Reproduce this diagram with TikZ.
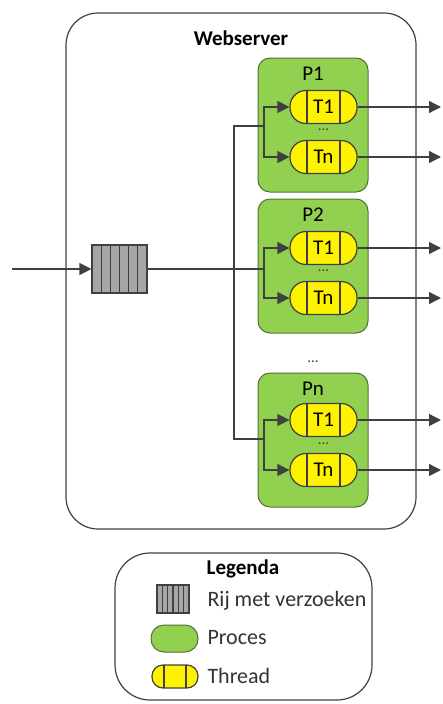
\documentclass[tikz,border=0pt]{standalone}
\usepackage{fontspec}
\setmainfont{Carlito}
\usepackage{tikz}
\usetikzlibrary{calc, positioning, arrows.meta}
\definecolor{procgreen}{RGB}{146,208,80}
\definecolor{procborder}{RGB}{84,112,58}
\definecolor{linegray}{RGB}{64,64,64}
\definecolor{queuegray}{RGB}{166,166,166}
\tikzset{
	box/.style={draw=linegray, line width=1.2pt, fill=white},
	proc/.style={draw=procborder, fill=procgreen, line width=1pt, rounded corners=12pt, minimum width=110pt, minimum height=134pt},
	thread/.style={draw=linegray, fill=yellow, line width=1.2pt, inner sep=0pt, rounded corners=16pt, minimum width=67pt, minimum height=33pt,
		path picture={
			\draw[linegray, line width=2pt]
				($(path picture bounding box.north west)!0.26!(path picture bounding box.north east)$) --
				($(path picture bounding box.south west)!0.26!(path picture bounding box.south east)$)
				($(path picture bounding box.north west)!0.74!(path picture bounding box.north east)$) --
				($(path picture bounding box.south west)!0.74!(path picture bounding box.south east)$);
		}},
	queue/.style={draw=linegray, fill=queuegray, line width=1.2pt, inner sep=0pt, minimum width=55pt, minimum height=48pt,
		path picture={
			\foreach \i in {1,...,5}
				\draw[linegray, line width=1.2pt]
					($(path picture bounding box.north west)!\i/6!(path picture bounding box.north east)$) --
					($(path picture bounding box.south west)!\i/6!(path picture bounding box.south east)$);
		}},
	wire/.style={draw=linegray, line width=1.3pt},
	arr/.style={wire, -{Triangle[length=12pt, width=12pt]}},
	dots/.style={font=\fontsize{15}{15}\selectfont, inner sep=0pt, text=linegray},
	title/.style={font=\bfseries\fontsize{21}{25}\selectfont},
	legtxt/.style={anchor=west, font=\fontsize{22}{26}\selectfont, text=black!80}
}

\begin{document}
\begin{tikzpicture}[x=1pt, y=-1pt, font=\fontsize{21}{25}\selectfont]
	\useasboundingbox (0,0) rectangle (443,704);

	% webserver
	\node[box, rounded corners=32pt, minimum width=350pt, minimum height=516pt] (web) at (241,271) {};
	\node[title] (webtitle) at (241,38) {Webserver};

	\node[queue] (q) at (119.5,269) {};
	\coordinate (in) at (12,269);
	\draw[arr] (in) -- (q);

	\node[proc] (p1) at (313,125) {};
	\node (p1lbl) at (313,74) {P1};
	\node[thread] (p1t1) at (323.5,107) {T1};
	\node[thread] (p1tn) at (323.5,157) {Tn};
	\node[dots] (p1dots) at (323.5,130) {...};

	\node[proc] (p2) at (313,266) {};
	\node (p2lbl) at (313,215) {P2};
	\node[thread] (p2t1) at (323.5,248) {T1};
	\node[thread] (p2tn) at (323.5,298) {Tn};
	\node[dots] (p2dots) at (323.5,271) {...};

	\node[dots] (pdots) at (313,362) {...};

	\node[proc] (pn) at (313,440) {};
	\node (pnlbl) at (313,389) {Pn};
	\node[thread] (pnt1) at (323.5,420) {T1};
	\node[thread] (pntn) at (323.5,470) {Tn};
	\node[dots] (pndots) at (323.5,444) {...};

	% verdeling
	\coordinate (f1) at (234,126);
	\coordinate (fn) at (234,439);
	\coordinate (j1) at (264,126);
	\coordinate (j2) at (264,269);
	\coordinate (jn) at (264,439);
	\draw[wire] (q) -- (j2);
	\draw[wire] (j1) -- (f1) -- (fn) -- (jn);
	\draw[arr] (j1) |- (p1t1);
	\draw[arr] (j1) |- (p1tn);
	\draw[arr] (j2) |- (p2t1);
	\draw[arr] (j2) |- (p2tn);
	\draw[arr] (jn) |- (pnt1);
	\draw[arr] (jn) |- (pntn);

	% uitgangen
	\coordinate (out) at (441,0);
	\draw[arr] (p1t1) -- (p1t1 -| out);
	\draw[arr] (p1tn) -- (p1tn -| out);
	\draw[arr] (p2t1) -- (p2t1 -| out);
	\draw[arr] (p2tn) -- (p2tn -| out);
	\draw[arr] (pnt1) -- (pnt1 -| out);
	\draw[arr] (pntn) -- (pntn -| out);

	% legenda
	\node[box, rounded corners=35pt, minimum width=257pt, minimum height=147pt] (leg) at (243.5,626.5) {};
	\node[title] (legtitle) at (243,569) {Legenda};
	\node[queue, minimum width=32pt, minimum height=28pt] (legq) at (173,599) {};
	\node[legtxt] (legqtxt) at (204,601) {Rij met verzoeken};
	\node[proc, rounded corners=13pt, minimum width=47pt, minimum height=27pt] (legp) at (174.5,638.5) {};
	\node[legtxt] (legptxt) at (204,638) {Proces};
	\node[thread, rounded corners=11pt, minimum width=46pt, minimum height=23pt] (legt) at (175,676.5) {};
	\node[legtxt] (legttxt) at (204,676) {Thread};
\end{tikzpicture}
\end{document}
